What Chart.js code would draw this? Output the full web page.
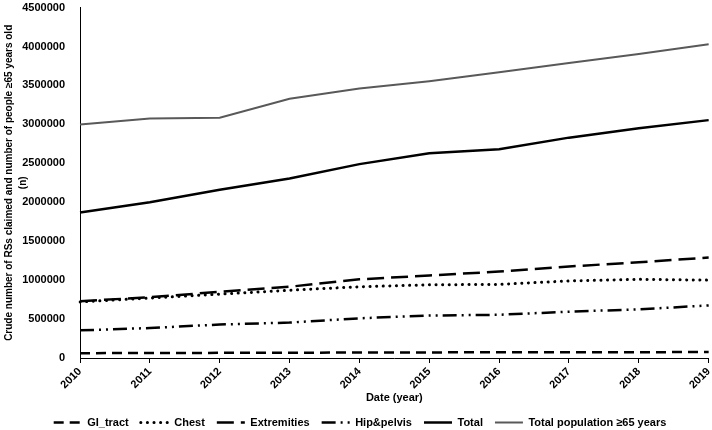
<!DOCTYPE html>
<html>
<head>
<meta charset="utf-8">
<script src="https://cdn.jsdelivr.net/npm/chart.js@4/dist/chart.umd.min.js"></script>
<style>
  html, body { margin: 0; padding: 0; background: #fff; overflow: hidden; width: 712px; height: 430px; }
  #wrap { position: absolute; left: 0; top: -6px; width: 720px; height: 436px; }
</style>
</head>
<body>
<div id="wrap"><canvas id="graph"></canvas></div>
<script>
const years = ['2010', '2011', '2012', '2013', '2014', '2015', '2016', '2017', '2018', '2019'];
const giTract = [62000, 64000, 66000, 68000, 70000, 72000, 73000, 74000, 75000, 76000];
const chest = [720000, 770000, 820000, 870000, 915000, 940000, 945000, 990000, 1010000, 1000000];
const extremities = [730000, 780000, 850000, 915000, 1010000, 1060000, 1110000, 1175000, 1230000, 1290000];
const hipPelvis = [355000, 385000, 430000, 455000, 510000, 545000, 555000, 595000, 625000, 675000];
const total = [1870000, 2000000, 2160000, 2305000, 2490000, 2630000, 2680000, 2830000, 2950000, 3055000];
const totalPop = [3000000, 3075000, 3085000, 3330000, 3460000, 3555000, 3670000, 3790000, 3905000, 4030000];

const font = { family: 'Liberation Sans, Arial, sans-serif', size: 11, weight: 'bold' };

function line(label, data, color, width, dash, cap) {
    return {
        label: label,
        data: data,
        borderColor: color,
        backgroundColor: color,
        borderWidth: width,
        borderDash: dash,
        borderCapStyle: cap || 'butt',
        pointRadius: 0,
        tension: 0,
        fill: false
    };
}

const ctx = document.getElementById('graph').getContext('2d');
const graph = new Chart(ctx, {
    type: 'line',
    data: {
        labels: years,
        datasets: [
            line('GI_tract', giTract, '#000', 2.5, [10, 6]),
            line('Chest', chest, '#000', 3, [0.1, 6.5], 'round'),
            line('Extremities', extremities, '#000', 2.5, [17, 7]),
            line('Hip&pelvis', hipPelvis, '#000', 2.5, [14, 5, 2, 5, 2, 5]),
            line('Total', total, '#000', 2.5, []),
            line('Total population ≥65 years', totalPop, '#595959', 2, [])
        ]
    },
    options: {
        responsive: true,
        maintainAspectRatio: false,
        animation: false,
        layout: { padding: { top: 0, right: 0, left: 0, bottom: -8 } },
        plugins: {
            tooltip: { enabled: false },
            legend: {
                position: 'bottom',
                labels: {
                    usePointStyle: true,
                    pointStyle: 'line',
                    pointStyleWidth: 28,
                    padding: 12,
                    color: '#000',
                    font: font,
                    generateLabels: function(chart) {
                        // point-style legend items take the point's style, so copy the line style back in
                        const items = Chart.defaults.plugins.legend.labels.generateLabels(chart);
                        items.forEach(item => {
                            const ds = chart.data.datasets[item.datasetIndex];
                            item.lineDash = ds.borderDash;
                            item.lineWidth = ds.borderWidth;
                            item.lineCap = ds.borderCapStyle;
                            item.strokeStyle = ds.borderColor;
                        });
                        return items;
                    }
                }
            }
        },
        scales: {
            x: {
                offset: false,
                grid: { display: true, drawOnChartArea: false, tickLength: 5, color: '#000' },
                border: { display: true, color: '#000', width: 1 },
                ticks: { color: '#000', font: font, maxRotation: 45, minRotation: 45, padding: 2 },
                title: { display: true, text: 'Date (year)', color: '#000', font: font, padding: { top: 2, bottom: 0 } },
                afterFit: function(scale) { scale.height = 47; }
            },
            y: {
                min: 0,
                max: 4500000,
                grid: { display: false },
                border: { display: true, color: '#000', width: 1 },
                ticks: {
                    stepSize: 500000,
                    color: '#000',
                    font: font,
                    padding: 7,
                    callback: function(value) { return String(value); }
                },
                title: {
                    display: true,
                    text: ['Crude number of RSs claimed and number of people ≥65 years old', '(n)'],
                    color: '#000',
                    font: { family: font.family, size: 10, weight: 'bold', lineHeight: 1.4 },
                    padding: { top: 2, bottom: 3 }
                },
                afterFit: function(scale) { scale.width = 80; }
            }
        }
    }
});
</script>
</body>
</html>
